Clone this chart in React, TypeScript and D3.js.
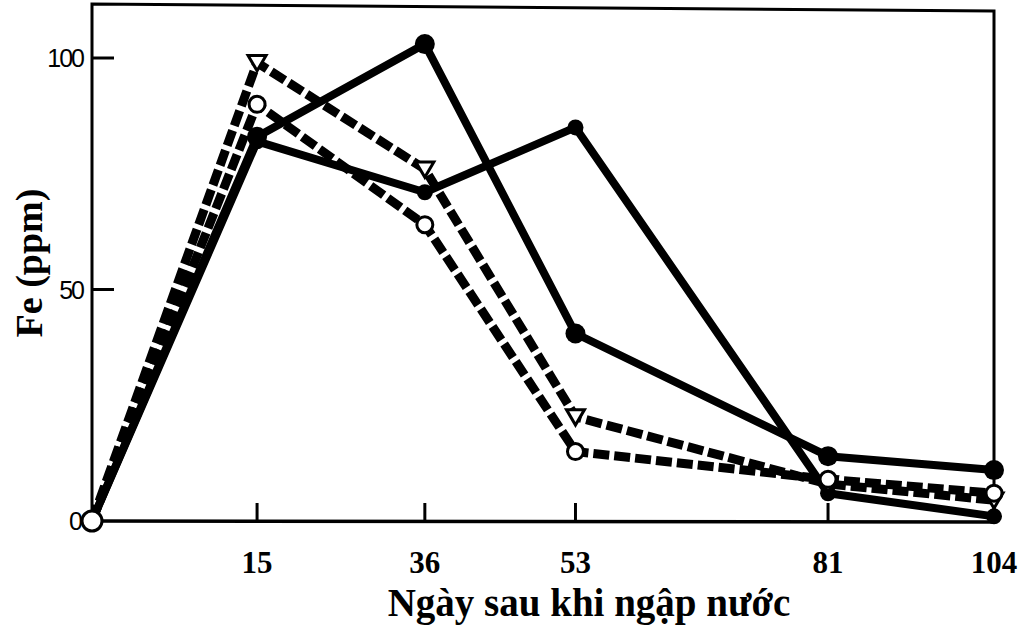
import React from "react";
import * as d3 from "d3";

const days = [0, 15, 36, 53, 81, 104];
const xTickLabels = ["15", "36", "53", "81", "104"];
const yTicks = [0, 50, 100];

const solidA = [0, 83, 103, 40.5, 14, 11];
const solidB = [0, 82, 71, 85, 6, 1];
const dashTri = [0, 99, 76, 22.5, 8, 4.5];
const dashCirc = [0, 90, 64, 15, 9, 6];

const W = 1024;
const H = 629;

export default function App() {
  const left = 92;
  const right = 994;
  const frac = [0, 0.183, 0.369, 0.536, 0.816, 1];
  const x = d3
    .scaleLinear()
    .domain(days)
    .range(frac.map((f) => left + f * (right - left)));
  const y = d3.scaleLinear().domain([0, 100]).range([521, 58]);
  const top = y(111);

  const line = d3
    .line<number>()
    .x((_, i) => x(days[i]))
    .y((d) => y(d));

  const tri = (cx: number, cy: number, s: number) =>
    `M${cx - s},${cy - s * 0.8}L${cx + s},${cy - s * 0.8}L${cx},${cy + s * 0.9}Z`;

  return (
    <svg width={W} height={H} style={{ position: "absolute", left: 0, top: 0, background: "#fff" }}>
      <rect width={W} height={H} fill="#fff" />
      {/* frame */}
      <path
        d={`M${left},${y(0)}L${left},${top - 3}L${right},${top + 4}L${right},${y(0)}`}
        fill="none"
        stroke="#000"
        strokeWidth={3}
      />
      <line x1={left} x2={right} y1={y(0)} y2={y(0) + 1} stroke="#000" strokeWidth={3.5} />
      {/* y ticks */}
      {yTicks.map((t) => (
        <g key={t}>
          {t > 0 && <line x1={left} x2={left + 22} y1={y(t)} y2={y(t)} stroke="#000" strokeWidth={3} />}
          <text
            x={t === 0 ? 81 : 83}
            y={y(t)}
            dy="0.36em"
            textAnchor="end"
            fontFamily="Liberation Sans, Arial, sans-serif"
            fontSize={25}
            letterSpacing={-2}
            fill="#000"
          >
            {String(t)}
          </text>
        </g>
      ))}
      {/* x ticks */}
      {days.slice(1).map((d, i) => (
        <g key={d}>
          <line x1={x(d)} x2={x(d)} y1={y(0)} y2={y(0) - 18} stroke="#000" strokeWidth={3} />
          <text
            x={x(d)}
            y={573}
            textAnchor="middle"
            fontFamily="Liberation Serif, Times New Roman, serif"
            fontWeight="bold"
            fontSize={31}
            fill="#000"
          >
            {xTickLabels[i]}
          </text>
        </g>
      ))}
      {/* axis titles */}
      <text
        x={589}
        y={616}
        textAnchor="middle"
        fontFamily="Liberation Serif, Times New Roman, serif"
        fontWeight="bold"
        fontSize={39}
        fill="#000"
      >
        Ngày sau khi ngập nước
      </text>
      <text
        transform={`translate(42,${263}) rotate(-90)`}
        textAnchor="middle"
        fontFamily="Liberation Serif, Times New Roman, serif"
        fontWeight="bold"
        fontSize={38}
        fill="#000"
      >
        Fe (ppm)
      </text>

      {/* dashed series */}
      <path d={line(dashCirc) || ""} fill="none" stroke="#000" strokeWidth={9} strokeDasharray="16,5" />
      <path d={line(dashTri) || ""} fill="none" stroke="#000" strokeWidth={9} strokeDasharray="16,5" />
      {/* solid series */}
      <path d={line(solidB) || ""} fill="none" stroke="#000" strokeWidth={8} strokeLinejoin="round" />
      <path d={line(solidA) || ""} fill="none" stroke="#000" strokeWidth={8} strokeLinejoin="round" />

      {/* markers */}
      {solidB.map((v, i) =>
        i > 0 ? <circle key={"b" + i} cx={x(days[i])} cy={y(v)} r={8} fill="#000" /> : null
      )}
      {solidA.map((v, i) =>
        i > 0 ? <circle key={"a" + i} cx={x(days[i])} cy={y(v)} r={10} fill="#000" /> : null
      )}
      {dashTri.map((v, i) =>
        i > 0 ? (
          <path
            key={"t" + i}
            d={tri(x(days[i]), y(v), 9)}
            fill="#fff"
            stroke="#000"
            strokeWidth={3}
          />
        ) : null
      )}
      {dashCirc.map((v, i) => (
        <circle
          key={"c" + i}
          cx={x(days[i])}
          cy={y(v)}
          r={i === 0 ? 10 : 8}
          fill="#fff"
          stroke="#000"
          strokeWidth={3}
        />
      ))}
    </svg>
  );
}
